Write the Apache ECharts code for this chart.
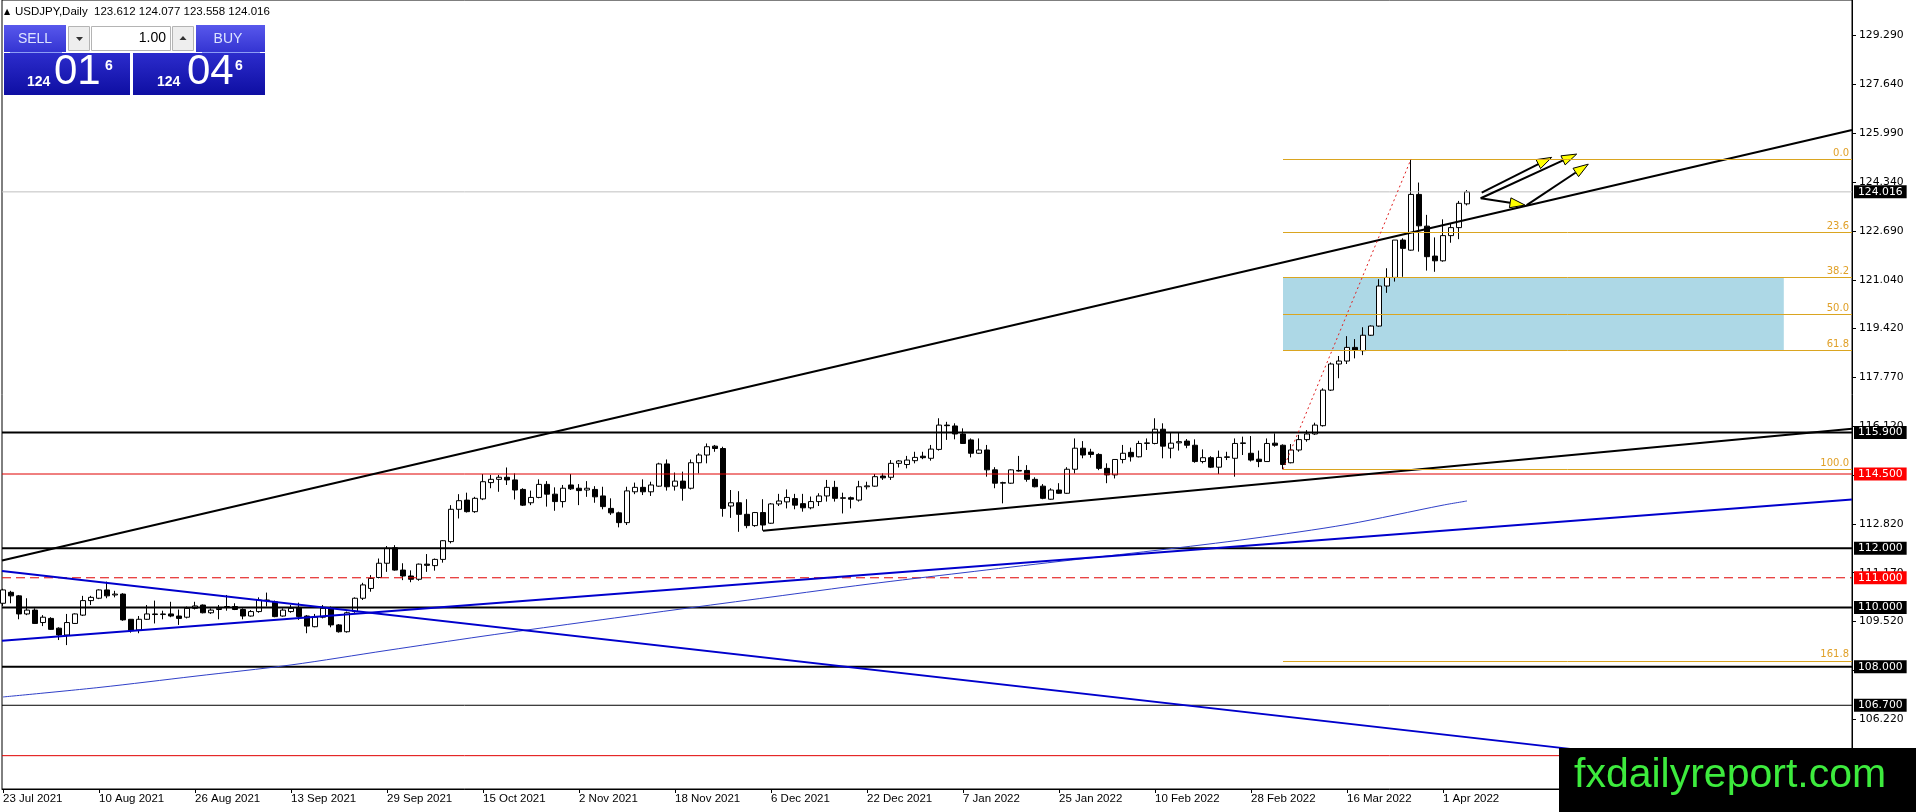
<!DOCTYPE html>
<html><head><meta charset="utf-8">
<script src="https://cdn.jsdelivr.net/npm/echarts@6/dist/echarts.min.js"></script>
<style>html,body{margin:0;padding:0;background:#fff;overflow:hidden}#c{width:1916px;height:812px}</style>
</head><body><div id="c"></div>
<script>
// ---------- data ----------
const symbolName = 'USDJPY';
const timeframe = 'Daily';
const dateLabels = ['23 Jul 2021','10 Aug 2021','26 Aug 2021','13 Sep 2021','29 Sep 2021','15 Oct 2021','2 Nov 2021','18 Nov 2021','6 Dec 2021','22 Dec 2021','7 Jan 2022','25 Jan 2022','10 Feb 2022','28 Feb 2022','16 Mar 2022','1 Apr 2022'];
const labelStep = 12; // bars between date labels
// [open, close, low, high] per daily bar, 23 Jul 2021 onward
const candles = [
[110.14,110.59,110.05,110.63],[110.51,110.39,110.14,110.56],[110.39,109.78,109.60,110.42],[109.78,109.91,109.74,110.31],
[109.91,109.46,109.44,109.97],[109.49,109.67,109.37,109.74],[109.63,109.26,109.24,109.67],[109.30,109.07,108.90,109.33],
[109.07,109.49,108.73,109.78],[109.46,109.78,109.44,109.80],[109.74,110.23,109.71,110.39],[110.23,110.34,110.08,110.39],
[110.31,110.59,110.28,110.61],[110.59,110.39,110.31,110.87],[110.42,110.45,110.34,110.56],[110.45,109.58,109.55,110.48],
[109.60,109.22,109.15,109.61],[109.24,109.60,109.13,109.71],[109.60,109.78,109.58,110.08],[109.78,109.76,109.46,110.23],
[109.76,109.78,109.60,109.89],[109.78,109.71,109.67,110.19],[109.71,109.63,109.41,109.93],[109.67,109.97,109.63,110.03],
[109.97,110.05,109.93,110.19],[110.08,109.82,109.80,110.10],[109.82,109.91,109.78,109.97],[109.93,109.97,109.60,110.08],
[110.00,110.03,109.89,110.42],[110.03,109.93,109.91,110.14],[109.93,109.71,109.60,109.97],[109.71,109.86,109.69,109.91],
[109.86,110.25,109.82,110.34],[110.25,110.23,110.03,110.50],[110.19,109.69,109.67,110.23],[109.71,109.91,109.69,109.97],
[109.86,109.97,109.82,110.08],[110.00,109.69,109.58,110.16],[109.71,109.37,109.13,109.74],[109.35,109.67,109.33,109.78],
[109.67,109.97,109.63,110.08],[109.97,109.41,109.33,110.03],[109.41,109.18,109.15,109.44],[109.18,109.82,109.15,109.86],
[109.86,110.31,109.82,110.34],[110.31,110.76,110.25,110.83],[110.64,110.98,110.53,111.09],[111.01,111.49,110.98,111.65],
[111.49,111.99,111.20,112.07],[112.01,111.26,111.24,112.10],[111.26,111.06,110.92,111.49],[111.06,110.95,110.85,111.25],
[110.95,111.46,110.90,111.48],[111.46,111.42,111.20,111.80],[111.41,111.62,111.24,111.65],[111.62,112.25,111.51,112.27],
[112.22,113.31,112.16,113.45],[113.31,113.60,113.00,113.82],[113.62,113.23,113.20,113.87],[113.23,113.68,113.19,113.73],
[113.66,114.24,113.62,114.50],[114.21,114.32,114.02,114.47],[114.32,114.39,113.90,114.47],[114.39,114.30,114.13,114.72],
[114.30,113.96,113.64,114.52],[113.98,113.45,113.42,114.02],[113.53,113.71,113.45,113.94],[113.71,114.15,113.68,114.32],
[114.15,113.82,113.40,114.26],[113.82,113.57,113.26,114.05],[113.57,114.02,113.37,114.13],[114.13,114.00,113.96,114.50],
[114.02,113.94,113.45,114.16],[113.96,114.02,113.73,114.26],[113.98,113.73,113.53,114.09],[113.76,113.40,113.31,114.07],
[113.34,113.19,113.12,113.68],[113.19,112.86,112.70,113.23],[112.86,113.93,112.78,114.07],[113.90,114.05,113.82,114.21],
[114.05,113.90,113.79,114.32],[113.90,114.13,113.76,114.24],[114.09,114.84,114.07,114.88],[114.84,114.07,113.94,114.99],
[114.09,114.26,113.94,114.55],[114.26,114.02,113.60,114.58],[114.02,114.88,113.98,114.99],[114.88,115.14,114.52,115.20],
[115.14,115.42,114.86,115.53],[115.44,115.36,115.25,115.48],[115.36,113.34,113.06,115.42],[113.42,113.53,113.02,113.96],
[113.53,113.14,112.55,113.92],[113.14,112.76,112.67,113.65],[112.76,113.20,112.72,113.22],[113.20,112.78,112.59,113.65],
[112.84,113.49,112.82,113.52],[113.49,113.59,113.42,113.83],[113.56,113.71,113.34,113.98],[113.67,113.45,113.31,113.83],
[113.50,113.36,113.23,113.83],[113.36,113.57,113.31,113.74],[113.57,113.76,113.42,113.85],[113.76,114.05,113.57,114.30],
[114.05,113.68,113.57,114.27],[113.68,113.70,113.17,113.87],[113.70,113.65,113.34,113.74],[113.62,114.07,113.57,114.27],
[114.07,114.10,113.98,114.24],[114.09,114.41,114.07,114.50],[114.43,114.37,114.30,114.52],[114.39,114.86,114.30,114.97],
[114.86,114.94,114.72,114.97],[114.82,114.97,114.69,115.11],[114.95,115.06,114.86,115.25],[115.10,115.05,115.00,115.25],
[115.03,115.34,114.95,115.48],[115.33,116.15,115.29,116.38],[116.15,116.13,115.65,116.26],[116.12,115.85,115.67,116.21],
[115.85,115.53,115.52,116.04],[115.65,115.20,115.06,115.70],[115.20,115.31,115.18,115.70],[115.31,114.64,114.41,115.48],
[114.64,114.19,114.02,114.73],[114.19,114.21,113.51,114.24],[114.19,114.64,114.17,114.66],[114.62,114.60,114.58,115.11],
[114.62,114.32,114.24,114.80],[114.32,114.07,114.05,114.39],[114.09,113.68,113.65,114.16],[113.65,113.96,113.63,114.02],
[113.96,113.85,113.83,114.19],[113.85,114.66,113.83,114.73],[114.66,115.37,114.52,115.70],[115.37,115.14,115.03,115.61],
[115.24,115.16,115.05,115.35],[115.16,114.69,114.63,115.20],[114.69,114.47,114.19,114.86],[114.47,114.99,114.35,114.99],
[114.99,115.20,114.86,115.48],[115.23,115.08,114.92,115.39],[115.08,115.53,115.06,115.62],[115.53,115.55,115.31,115.70],
[115.53,116.01,115.50,116.38],[116.01,115.44,115.03,116.21],[115.37,115.54,115.03,115.89],[115.55,115.59,115.29,115.89],
[115.61,115.47,115.37,115.68],[115.47,114.92,114.88,115.67],[114.92,115.05,114.86,115.33],[115.05,114.73,114.70,115.10],
[114.73,115.06,114.50,115.29],[115.06,115.08,114.97,115.25],[115.03,115.53,114.41,115.70],[115.53,115.55,115.14,115.76],
[115.20,114.97,114.92,115.78],[115.00,114.92,114.73,115.29],[114.92,115.53,114.92,115.70],[115.54,115.47,115.42,115.87],
[115.47,114.82,114.66,115.50],[114.88,115.31,114.86,115.51],[115.31,115.66,115.25,115.82],[115.66,115.85,115.59,115.98],
[115.85,116.15,115.82,116.23],[116.13,117.33,116.10,117.39],[117.33,118.21,117.30,118.26],[118.21,118.31,117.73,118.48],
[118.31,118.77,118.21,119.15],[118.77,118.68,118.40,119.05],[118.66,119.18,118.51,119.45],[119.18,119.49,119.16,119.51],
[119.49,120.84,119.47,121.07],[120.84,121.13,120.61,121.44],[121.13,122.39,120.99,122.39],[122.39,122.11,121.15,122.45],
[122.05,123.93,122.03,125.09],[123.93,122.87,122.00,124.33],[122.86,121.83,121.36,123.24],[121.85,121.69,121.32,122.48],
[121.69,122.54,121.66,123.09],[122.54,122.81,122.30,122.95],[122.81,123.63,122.42,123.71],[123.612,124.016,123.558,124.077]
];
// 200-day moving average, read at sample bars [bar, price]
const maPoints = [[0,106.98],[12,107.30],[24,107.68],[36,108.06],[48,108.55],[60,109.03],[72,109.48],[84,109.92],[96,110.35],[108,110.78],[120,111.17],[132,111.55],[144,111.92],[156,112.32],[168,112.80],[180,113.45],[183,113.59]];
const priceTicks = [129.29,127.64,125.99,124.34,122.69,121.04,119.42,117.77,116.12,114.47,112.82,111.17,109.52,107.87,106.22];
const currentPrice = 124.016;
const blackLevels = [115.9,112.0,110.0,108.0];
const thinBlackLevels = [106.7];
const redLevels = [114.5,105.0];
const redDashedLevels = [111.0];
const blackBoxLevels = [124.016,115.9,112.0,110.0,108.0,106.7];
const redBoxLevels = [114.5,111.0];
// trend lines [bar, price]
const trendBlackUpper = [[-0.125,111.58],[231.125,126.10]];
const trendBlackLower = [[95,112.59],[231.125,116.03]];
const trendBlueUp = [[-0.125,108.88],[231.125,113.64]];
const trendBlueDown = [[-0.125,111.23],[231.125,104.15]];
// Fibonacci retracement
const fibStartBar = 160;
const fibLevels = [['0.0',125.12],['23.6',122.65],['38.2',121.12],['50.0',119.89],['61.8',118.66],['100.0',114.66],['161.8',108.20]];
const fibZone = [[160,121.12],[222.6,118.66]];
const fibSwing = [[160,114.66],[176,125.12]];
// arrowed lines [bar0, price0, bar1, price1]
const arrows = [[184.84,123.99,193.59,125.18],[184.71,123.80,196.71,125.29],[184.71,123.80,190.25,123.57],[190.46,123.57,198.16,124.95]];
const tradePanel = {lot:'1.00', sell:['124','01','6'], buy:['124','04','6']};
const watermark = 'fxdailyreport.com';

// ---------- layout ----------
const X_MIN = -0.125, X_MAX = 231.125, Y_MIN = 103.876, Y_MAX = 130.487;
const AX_FONT = 'DejaVu Sans';
const tickIdx = dateLabels.map((_, k) => k * labelStep);

const chart = echarts.init(document.getElementById('c'), null, {renderer:'canvas'});
const hLine = (p) => [[X_MIN,p],[X_MAX,p]];
const lineS = (data, color, width, type, extra) => Object.assign({
  type:'line', data, symbol:'none', showSymbol:false, silent:true, animation:false, z:3,
  lineStyle:{color, width, type:type||'solid'}
}, extra||{});

const series = [];
series.push({
  type:'candlestick', data: candles.map((c,i)=>[i].concat(c)), encode:{x:0, y:[1,2,3,4]},
  barWidth:5, z:2, silent:true, animation:false,
  itemStyle:{color:'#ffffff', color0:'#000000', borderColor:'#000000', borderColor0:'#000000', borderColorDoji:'#000000', borderWidth:1},
  markArea:{silent:true, animation:false, itemStyle:{color:'#ADD8E6', opacity:1}, label:{show:false},
    data:[[{coord:fibZone[0]},{coord:fibZone[1]}]]},
  markLine:{silent:true, animation:false, symbol:['none','none'], precision:3,
    data: fibLevels.map(([r,p]) => [
      {coord:[fibStartBar,p], lineStyle:{color:'#DAA520', width:1, type:'solid'},
       label:{show:true, formatter:r, position:'insideEndTop', distance:[3,1], color:'#E0A028', fontFamily:AX_FONT, fontSize:10}},
      {coord:[X_MAX,p]}
    ]).concat([[
      {coord:fibSwing[0], lineStyle:{color:'#E02020', width:1, type:[2,3]}, label:{show:false}},
      {coord:fibSwing[1]}
    ]])
  }
});
series.push(lineS(hLine(currentPrice), '#C0C0C0', 1));
blackLevels.forEach(p => series.push(lineS(hLine(p), '#000', 2)));
thinBlackLevels.forEach(p => series.push(lineS(hLine(p), '#000', 1)));
redLevels.forEach(p => series.push(lineS(hLine(p), '#E00000', 1)));
redDashedLevels.forEach(p => series.push(lineS(hLine(p), '#E00000', 1, [9,5])));
series.push(lineS(maPoints, '#3040C8', 1, 'solid', {smooth:0.3}));
series.push(lineS(trendBlueUp, '#0000CC', 2));
series.push(lineS(trendBlueDown, '#0000CC', 2));
series.push(lineS(trendBlackUpper, '#000', 2));
series.push(lineS(trendBlackLower, '#000', 2));
series.push({
  type:'custom', data: arrows, encode:{x:[0,2], y:[1,3]}, z:4, silent:true, animation:false, clip:false,
  renderItem(params, api){
    const p0 = api.coord([api.value(0), api.value(1)]);
    const p1 = api.coord([api.value(2), api.value(3)]);
    const dx = p1[0]-p0[0], dy = p1[1]-p0[1], len = Math.hypot(dx,dy) || 1;
    const ux = dx/len, uy = dy/len, hl = 15, hw = 5;
    const b = [p1[0]-ux*hl, p1[1]-uy*hl];
    return {type:'group', children:[
      {type:'line', shape:{x1:p0[0], y1:p0[1], x2:b[0], y2:b[1]}, style:{stroke:'#000', lineWidth:2}},
      {type:'polygon', shape:{points:[p1,[b[0]-uy*hw,b[1]+ux*hw],[b[0]+uy*hw,b[1]-ux*hw]]}, style:{fill:'#FFFF00', stroke:'#000', lineWidth:1}}
    ]};
  }
});

const yBase = {type:'value', position:'right', min:Y_MIN, max:Y_MAX, splitLine:{show:false}};
const last = candles[candles.length-1];
const headerText = `${symbolName},${timeframe}  ${last[0].toFixed(3)} ${last[3].toFixed(3)} ${last[2].toFixed(3)} ${last[1].toFixed(3)}`;
const grad = (a,b) => new echarts.graphic.LinearGradient(0,0,0,1,[{offset:0,color:a},{offset:1,color:b}]);
const LF = '"Liberation Sans", Arial, sans-serif';

const panel = [
  {type:'text', x:4, y:12, style:{text:'▲', font:'8px "DejaVu Sans"', fill:'#000', verticalAlign:'middle'}},
  {type:'text', x:15, y:12, style:{text:headerText, font:'11.5px '+LF, fill:'#000', verticalAlign:'middle'}},
  {type:'rect', shape:{x:4,y:25,width:62,height:27}, style:{fill:grad('#5858EC','#3434D2')}},
  {type:'text', x:35, y:39, style:{text:'SELL', font:'14px '+LF, fill:'#DDE4FF', align:'center', verticalAlign:'middle'}},
  {type:'rect', shape:{x:68.5,y:26.5,width:21,height:24}, style:{fill:'#EEEEEE', stroke:'#B4B4B4', lineWidth:1}},
  {type:'polygon', shape:{points:[[76,37],[83,37],[79.5,41]]}, style:{fill:'#333'}},
  {type:'rect', shape:{x:91.5,y:26.5,width:79,height:24}, style:{fill:'#FFFFFF', stroke:'#B4B4B4', lineWidth:1}},
  {type:'text', x:166, y:38.5, style:{text:tradePanel.lot, font:'14px '+LF, fill:'#000', align:'right', verticalAlign:'middle'}},
  {type:'rect', shape:{x:172.5,y:26.5,width:21,height:24}, style:{fill:'#EEEEEE', stroke:'#B4B4B4', lineWidth:1}},
  {type:'polygon', shape:{points:[[179.5,40],[186.5,40],[183,36]]}, style:{fill:'#333'}},
  {type:'rect', shape:{x:196,y:25,width:69,height:27}, style:{fill:grad('#5858EC','#3434D2')}},
  {type:'text', x:228, y:39, style:{text:'BUY', font:'14px '+LF, fill:'#DDE4FF', align:'center', verticalAlign:'middle'}},
  {type:'rect', shape:{x:4,y:53,width:126,height:42}, style:{fill:grad('#2C2CCC','#0E0EA2')}},
  {type:'rect', shape:{x:133,y:53,width:132,height:42}, style:{fill:grad('#2C2CCC','#0E0EA2')}},
  {type:'line', shape:{x1:10,y1:52.5,x2:62,y2:52.5}, style:{stroke:'#8C9CF4', lineWidth:1}},
  {type:'line', shape:{x1:202,y1:52.5,x2:260,y2:52.5}, style:{stroke:'#8C9CF4', lineWidth:1}},
  {type:'text', x:27, y:82.5, style:{text:tradePanel.sell[0], font:'bold 14px '+LF, fill:'#fff', verticalAlign:'middle'}},
  {type:'text', x:54, y:72.5, style:{text:tradePanel.sell[1], font:'42px '+LF, fill:'#fff', verticalAlign:'middle'}},
  {type:'text', x:105, y:66, style:{text:tradePanel.sell[2], font:'bold 14px '+LF, fill:'#fff', verticalAlign:'middle'}},
  {type:'text', x:157, y:82.5, style:{text:tradePanel.buy[0], font:'bold 14px '+LF, fill:'#fff', verticalAlign:'middle'}},
  {type:'text', x:187, y:72.5, style:{text:tradePanel.buy[1], font:'42px '+LF, fill:'#fff', verticalAlign:'middle'}},
  {type:'text', x:235, y:66, style:{text:tradePanel.buy[2], font:'bold 14px '+LF, fill:'#fff', verticalAlign:'middle'}},
  {type:'rect', shape:{x:1559,y:748,width:357,height:64}, style:{fill:'#000'}, z:200},
  {type:'text', x:1574, y:776, z:201, style:{text:watermark, font:'41px '+LF, fill:'#3DEB3D', verticalAlign:'middle'}}
].map(e => Object.assign({z:100, silent:true}, e));

chart.setOption({
  animation:false,
  backgroundColor:'#ffffff',
  grid:{left:2, right:64, top:0, bottom:23, show:true, borderColor:'#000', borderWidth:1, backgroundColor:'#fff'},
  xAxis:{type:'value', min:X_MIN, max:X_MAX, position:'bottom', splitLine:{show:false},
    axisLine:{show:true, onZero:false, lineStyle:{color:'#000', width:1}},
    axisTick:{show:true, customValues:tickIdx, length:4, lineStyle:{color:'#000'}},
    axisLabel:{customValues:tickIdx, formatter:(v)=>dateLabels[Math.round(v/labelStep)]||'', align:'left', margin:4,
      fontFamily:'Liberation Sans', fontSize:11.5, color:'#000'}},
  yAxis:[
    Object.assign({}, yBase, {
      axisLine:{show:true, onZero:false, lineStyle:{color:'#000', width:1}},
      axisTick:{show:true, customValues:priceTicks, length:4, lineStyle:{color:'#000'}},
      axisLabel:{customValues:priceTicks, formatter:(v)=>v.toFixed(3), margin:7, fontFamily:AX_FONT, fontSize:10.8, color:'#000'}}),
    Object.assign({}, yBase, {z:1,
      axisLine:{show:false, onZero:false}, axisTick:{show:false},
      axisLabel:{customValues:blackBoxLevels, formatter:(v)=>v.toFixed(3), margin:2, fontFamily:AX_FONT, fontSize:10.8,
        color:'#fff', backgroundColor:'#000', padding:[1,4,1,4]}}),
    Object.assign({}, yBase, {z:1,
      axisLine:{show:false, onZero:false}, axisTick:{show:false},
      axisLabel:{customValues:redBoxLevels, formatter:(v)=>v.toFixed(3), margin:2, fontFamily:AX_FONT, fontSize:10.8,
        color:'#fff', backgroundColor:'#FF0000', padding:[1,4,1,4]}})
  ],
  series,
  graphic:{elements:panel}
});
</script></body></html>
